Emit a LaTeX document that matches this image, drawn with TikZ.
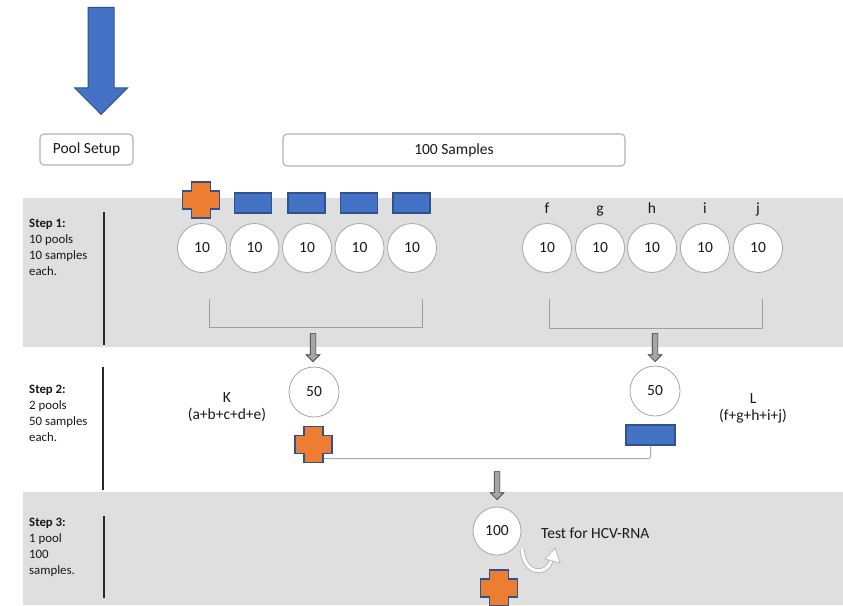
\documentclass[tikz,border=0pt]{standalone}
\usepackage{fontspec}
\setmainfont{Carlito}
\usetikzlibrary{shapes.arrows,calc}
\definecolor{bandgray}{RGB}{223,223,223}
\definecolor{oblue}{RGB}{68,114,196}
\definecolor{dblue}{RGB}{47,82,143}
\definecolor{orng}{RGB}{237,125,49}
\definecolor{txt}{RGB}{25,25,25}
\tikzset{
 pool/.style={circle, draw=gray!70, fill=white, line width=0.8pt, minimum size=49pt, inner sep=0pt, font=\fontsize{15.5}{17}\selectfont, text=txt},
 flag/.style={rectangle, draw=dblue, fill=oblue, line width=1.2pt, minimum width=37pt, minimum height=20pt, inner sep=0pt},
 plusbox/.style={minimum size=37pt, inner sep=0pt},
 plusfill/.style={draw=dblue, fill=orng, line width=1.4pt},
 setupbox/.style={draw=gray!60, rounded corners=4pt, line width=1.1pt, fill=white, inner sep=0pt, font=\fontsize{15.5}{17}\selectfont, text=txt},
 steplabel/.style={anchor=north west, align=left, font=\fontsize{12.8}{16}\selectfont, text=txt, inner sep=0pt},
 lbl/.style={font=\fontsize{15.5}{17}\selectfont, text=txt, align=center, inner sep=0pt},
 divider/.style={line width=1.6pt, black!85},
 bracket/.style={draw=gray!75, line width=0.9pt},
 conn/.style={draw=gray!65, line width=1pt, rounded corners=2pt},
 minarrow/.style={single arrow, shape border rotate=270, draw=gray!40!black, fill=gray!70, line width=0.6pt, inner sep=2.5pt, single arrow head extend=4pt, minimum height=28pt, single arrow tip angle=90, anchor=tip},
 bigarrow/.style={single arrow, shape border rotate=270, draw=dblue, fill=oblue, line width=1pt, inner sep=12.5pt, single arrow head extend=13.5pt, minimum height=107pt, single arrow tip angle=90, anchor=tip},
}
\newcommand\drawplus[1]{%
 \draw[plusfill] ([shift={(-9.5,-18)}]#1.center) -- ++(19,0) -- ++(0,9) -- ++(9,0) -- ++(0,18) -- ++(-9,0) -- ++(0,9) -- ++(-19,0) -- ++(0,-9) -- ++(-9,0) -- ++(0,-18) -- ++(9,0) -- cycle;}
\begin{document}
\begin{tikzpicture}[x=1pt,y=-1pt]
\useasboundingbox (0,0) rectangle (843,605);
\fill[white] (0,0) rectangle (843,605);
% bands
\fill[bandgray] (23,198) rectangle (843,347);
\fill[bandgray] (23,492) rectangle (843,605);

% top
\node[bigarrow] (big) at (101,115) {};
\node[setupbox, minimum width=93pt, minimum height=31pt] (setup) at (86.5,149.5) {Pool Setup};
\node[setupbox, minimum width=342pt, minimum height=32pt] (samples) at (454,150) {100 Samples};

% step labels
\node[steplabel] (s1) at (29,219) {\textbf{Step 1:}\\10 pools\\10 samples\\each.};
\node[steplabel] (s2) at (29,385) {\textbf{Step 2:}\\2 pools\\50 samples\\each.};
\node[steplabel] (s3) at (29,518) {\textbf{Step 3:}\\1 pool\\100\\samples.};
\draw[divider] (104,212) -- (104,345);
\draw[divider] (103,367) -- (103,490);
\draw[divider] (104,516) -- (104,598);

% step 1 pools
\foreach \n/\x in {a/202,b/254.5,c/307,d/359.5,e/412}{
 \node[pool] (\n) at (\x,248) {10};}
\foreach \n/\x in {f/547,g/600,h/652,i/705,j/758}{
 \node[pool] (\n) at (\x,248) {10};
 \node[lbl, anchor=base] (lab\n) at (\x,213) {\n};}

% markers above step 1
\node[plusbox] (pa) at (201,200) {};
\drawplus{pa}
\node[flag] (fb) at (253,203) {};
\node[flag] (fc) at (306.5,203) {};
\node[flag] (fd) at (359,203) {};
\node[flag] (fe) at (411.5,203) {};

% brackets
\draw[bracket] (209,299) -- (209,327) -- (422,327) -- (422,299);
\draw[bracket] (549,299) -- (549,328) -- (762,328) -- (762,299);

% arrows to step 2
\node[minarrow] (arK) at (313,362) {};
\node[minarrow] (arL) at (655,362) {};

% step 2
\node[pool, minimum size=50pt] (K) at (314,392) {50};
\node[pool, minimum size=50pt] (L) at (655,391) {50};
\node[lbl, anchor=north] (Ktxt) at (227,392) {K\\(a+b+c+d+e)};
\node[lbl, anchor=north] (Ltxt) at (753,393) {L\\(f+g+h+i+j)};
\node[plusbox] (pK) at (313.5,444.5) {};
\node[flag, minimum width=49pt] (fL) at (650.5,435) {};
\draw[conn] ([shift={(9.5,14)}]pK.center) -| (fL.south);
\drawplus{pK}

% step 3
\node[minarrow] (ar3) at (497,500) {};
\node[pool, minimum size=48pt] (T) at (497,531) {100};
\node[lbl, anchor=west] (test) at (541,533) {Test for HCV-RNA};
\draw[gray!55, line width=5pt] (522,549) .. controls (524,576) and (548,576) .. (551,560);
\draw[white, line width=3pt] (522,549) .. controls (524,576) and (548,576) .. (551,560);
\draw[gray!55, fill=white, line width=0.8pt] (555,548) -- (560,563) -- (545,559) -- cycle;
\node[plusbox] (pT) at (499,588) {};
\drawplus{pT}
\end{tikzpicture}
\end{document}
